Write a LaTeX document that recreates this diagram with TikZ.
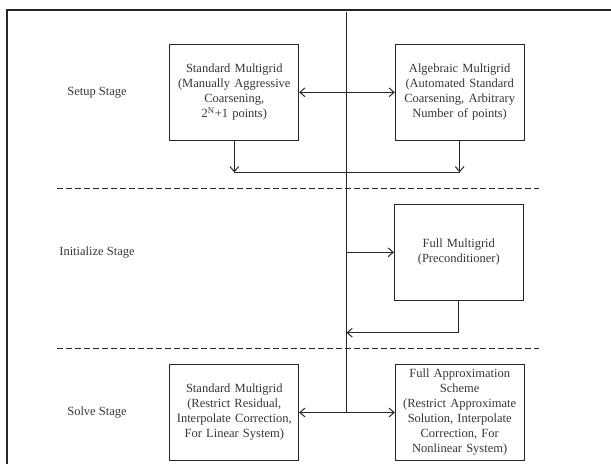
\documentclass[tikz,border=0pt]{standalone}
\usepackage{fontspec}
\setmainfont{Liberation Serif}
\usetikzlibrary{arrows.meta, positioning}

\definecolor{ink}{HTML}{262626}
\definecolor{txt}{HTML}{363636}

\tikzset{
  stagebox/.style={draw=ink, line width=0.8pt, minimum width=103pt, minimum height=77pt,
    text width=95pt, align=center, inner sep=2pt, text=txt, font=\fontsize{10}{12}\selectfont},
  stagelbl/.style={text=txt, font=\fontsize{10}{12}\selectfont},
  link/.style={draw=ink, line width=0.8pt},
  divider/.style={draw=ink, line width=0.8pt, dash pattern=on 4.6pt off 2.6pt}
}

\begin{document}
\begin{tikzpicture}[x=0.8pt, y=-0.8pt, >={Straight Barb[length=4pt,width=7pt]}]
    \useasboundingbox (0,0) rectangle (611,464);
    % Frame
    \draw [ink, line width=1.6pt] (611,10) -- (7,10) -- (7,464);

    % Setup stage
    \node [stagelbl] (setup) at (97,92.7) {Setup Stage};
    \node [stagebox] (smg) at (234.3,92.3) {Standard Multigrid\\(Manually Aggressive\\Coarsening,\\2\textsuperscript{N}+1 points)};
    \node [stagebox, right=76.5pt of smg] (amg) {Algebraic Multigrid\\(Automated Standard\\Coarsening, Arbitrary\\Number of points)};

    % Main line
    \coordinate (top) at (346.5,12.5);
    \coordinate (join) at (346.5,172.3);
    \coordinate (ret) at (346.5,332.7);

    \draw [link, ->] (top |- smg) -- (smg.east);
    \draw [link, ->] (top |- amg) -- (amg.west);
    \draw [link, ->] (smg.south) -- (smg.south |- join);
    \draw [link, ->] (amg.south) -- (amg.south |- join);
    \draw [link] (smg.south |- join) -- (amg.south |- join);

    \draw [divider] (57,188.3) -- (539,188.3);

    % Initialize stage
    \node [stagelbl] (init) at (97,252.5) {Initialize Stage};
    \node [stagebox] (fmg) at (458.8,252.3) {Full Multigrid\\(Preconditioner)};
    \draw [link, ->] (top |- fmg) -- (fmg.west);
    \draw [link, ->] (fmg.south) |- (ret);

    \draw [divider] (57,348.3) -- (539,348.3);

    % Solve stage
    \node [stagelbl] (solve) at (97,412.5) {Solve Stage};
    \node [stagebox] (smgs) at (234.3,412.5) {Standard Multigrid\\(Restrict Residual,\\Interpolate Correction,\\For Linear System)};
    \node [stagebox, right=76.5pt of smgs] (fas) {Full Approximation\\Scheme\\(Restrict Approximate\\Solution, Interpolate\\Correction, For\\Nonlinear System)};
    \draw [link, ->] (top |- smgs) -- (smgs.east);
    \draw [link, ->] (top |- fas) -- (fas.west);

    \draw [link] (top) -- (top |- smgs);
\end{tikzpicture}
\end{document}
